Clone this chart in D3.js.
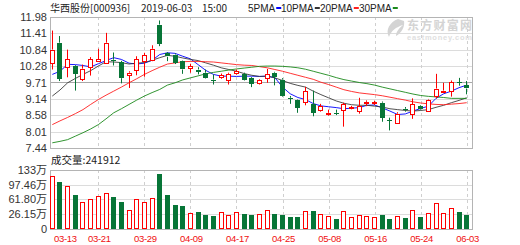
<!DOCTYPE html>
<html>
<head>
<meta charset="utf-8">
<script src="https://cdn.jsdelivr.net/npm/d3@7"></script>
<style>
  body { margin: 0; background: #fff; }
  svg { display: block; }
  text { font-family: "Liberation Sans", Arial, sans-serif; }
  .cjk { font-family: "Noto Sans CJK SC", "Liberation Sans", sans-serif; }
</style>
</head>
<body>
<script>
// trading days shown on the chart
var dates = ["03-13","03-14","03-15","03-18","03-19","03-20","03-21","03-22","03-25","03-26",
    "03-27","03-28","03-29","04-01","04-02","04-03","04-04","04-08","04-09","04-10",
    "04-11","04-12","04-15","04-16","04-17","04-18","04-19","04-22","04-23","04-24",
    "04-25","04-26","04-29","04-30","05-06","05-07","05-08","05-09","05-10","05-13",
    "05-14","05-15","05-16","05-17","05-20","05-21","05-22","05-23","05-24","05-27",
    "05-28","05-29","05-30","05-31","06-03"];

var openP = [10.39,11.09,10.24,10.28,9.85,10.22,10.43,10.39,10.50,10.42,
    9.97,10.14,10.45,10.51,11.72,10.72,10.68,10.45,10.20,10.16,
    10.05,9.81,9.88,9.79,10.02,10.01,9.87,9.68,9.87,10.05,
    9.81,9.18,9.09,9.04,8.97,8.74,8.64,8.66,8.74,8.81,
    8.70,9.01,9.01,9.01,8.40,8.31,8.80,8.60,8.89,8.74,
    9.26,9.40,9.41,9.71,9.62];
var closeP = [10.85,9.85,10.51,10.01,10.19,10.51,10.51,11.09,10.45,9.86,
    10.05,10.51,10.65,10.88,11.05,10.60,10.39,10.16,10.28,10.09,
    9.88,9.78,9.96,10.01,10.10,9.81,9.67,9.78,10.01,9.90,
    9.26,9.14,8.83,9.41,8.66,8.89,8.66,8.63,8.95,8.86,
    8.89,9.04,9.03,8.49,8.38,8.63,8.75,8.95,8.78,9.12,
    9.50,9.43,9.73,9.69,9.50];
var highP = [11.51,11.32,10.85,10.31,10.33,10.59,10.88,11.43,10.75,10.46,
    10.10,10.62,10.74,11.00,11.86,10.76,10.72,10.47,10.36,10.24,
    10.16,9.99,10.02,10.05,10.16,10.05,9.90,9.82,10.18,10.08,
    9.86,9.24,9.12,9.56,9.43,8.97,8.77,8.77,9.01,8.90,
    9.18,9.09,9.08,9.05,8.49,8.68,8.86,9.16,8.92,9.14,
    10.01,9.70,9.78,9.87,9.76];
var lowP = [10.16,9.76,9.89,9.43,9.76,9.95,10.43,10.36,10.30,9.68,
    9.52,9.96,9.91,10.45,10.97,10.45,10.35,10.01,10.05,9.99,
    9.85,9.64,9.84,9.64,9.98,9.78,9.55,9.64,9.70,9.61,
    9.22,8.97,8.66,8.92,8.54,8.70,8.56,8.58,8.18,8.78,
    8.63,8.89,8.93,8.35,8.05,8.30,8.70,8.45,8.75,8.70,
    9.16,9.35,9.22,9.60,9.30];

// volume, 万手
var volume = [117.9,105.0,93.5,71.6,56.3,62.8,69.2,78.2,67.7,56.3,
    36.8,62.8,55.5,65.3,122.8,71.6,48.2,44.8,28.7,31.2,
    23.9,22.2,31.2,23.9,31.2,26.3,23.9,26.3,36.8,27.0,
    23.9,19.7,19.7,34.3,34.3,26.3,21.4,14.9,34.3,19.0,
    23.9,22.2,19.7,23.9,14.9,22.2,17.3,36.8,19.7,28.7,
    53.1,28.7,40.9,31.9,24.19];

var ma5 = [9.99,10.10,10.34,10.33,10.30,10.25,10.36,10.47,10.57,10.51,
    10.38,10.35,10.38,10.48,10.68,10.74,10.72,10.62,10.53,10.33,
    10.13,9.99,9.93,9.93,9.92,9.93,9.93,9.92,9.93,9.88,
    9.55,9.32,9.19,9.12,8.98,8.90,8.87,8.84,8.80,8.82,
    8.84,8.92,8.93,8.83,8.72,8.60,8.62,8.72,8.81,8.89,
    9.16,9.32,9.41,9.53,9.62];
var ma10 = [9.24,9.45,9.70,9.85,9.99,10.12,10.28,10.43,10.42,10.40,
    10.35,10.38,10.40,10.48,10.57,10.65,10.62,10.56,10.51,10.47,
    10.39,10.31,10.22,10.16,10.10,10.02,9.96,9.92,9.93,9.87,
    9.78,9.68,9.61,9.55,9.41,9.29,9.18,9.07,8.99,8.94,
    8.92,8.92,8.89,8.86,8.80,8.77,8.74,8.72,8.74,8.77,
    8.85,8.92,9.01,9.09,9.18];
var ma20 = [8.25,8.38,8.50,8.63,8.77,8.95,9.12,9.27,9.41,9.55,
    9.70,9.84,9.99,10.12,10.24,10.35,10.39,10.43,10.44,10.44,
    10.43,10.42,10.39,10.36,10.33,10.31,10.30,10.26,10.22,10.16,
    10.10,10.03,9.96,9.89,9.82,9.72,9.64,9.55,9.46,9.40,
    9.35,9.32,9.29,9.25,9.20,9.15,9.10,9.04,9.00,8.97,
    8.95,8.94,8.96,8.98,9.01];
var ma30 = [7.62,7.67,7.73,7.85,7.97,8.10,8.25,8.45,8.66,8.80,
    8.95,9.10,9.24,9.36,9.47,9.62,9.70,9.80,9.87,9.94,
    10.01,10.06,10.10,10.14,10.18,10.21,10.24,10.27,10.28,10.28,
    10.27,10.25,10.22,10.17,10.10,10.03,9.96,9.88,9.81,9.76,
    9.71,9.67,9.62,9.55,9.49,9.43,9.37,9.31,9.26,9.23,
    9.21,9.19,9.16,9.16,9.16];

var priceTicks = [11.98, 11.41, 10.84, 10.28, 9.71, 9.14, 8.58, 8.01, 7.44];
var volTicks = [133, 97.46, 61.80, 26.15, -9.5];
var volTickLabels = ["133万", "97.46万", "61.80万", "26.15万", "0"];
var dateTicks = ["03-13","03-21","03-29","04-09","04-17","04-25","05-08","05-16","05-24","06-03"];

var maNames = ["5PMA", "10PMA", "20PMA", "30PMA"];
var maColors = ["#0000ff", "#333333", "#ff2020", "#1c8a1c"];
var maSeries = [ma5, ma10, ma20, ma30];

var titleParts = ["华西股份[000936]", "2019-06-03", "15:00"];
var volLabel = "成交量:241912";

var width = 520, height = 245;
var left = 50, right = 473;
var red = "#ff0000", green = "#077537";

var svg = d3.select("body").append("svg")
    .attr("width", width).attr("height", height);

var x = d3.scalePoint().domain(dates).range([52.3, 466.7]);
var yPrice = d3.scaleLinear().domain([7.44, 11.98]).range([148, 17]);
var yVol = d3.scaleLinear().domain([-9.5, 133]).range([228.6, 170]);

var data = dates.map(function (d, i) {
    return {date: d, o: openP[i], c: closeP[i], h: highP[i], l: lowP[i], v: volume[i]};
});

function px(v) { return Math.round(v) + 0.5; }

// ---- grids ----
function drawPanel(g, scale, ticks, top, bottom) {
    g.selectAll(".hgrid").data(ticks).enter().append("line")
        .attr("x1", left).attr("x2", right - 0.5)
        .attr("y1", function (d) { return px(scale(d)); })
        .attr("y2", function (d) { return px(scale(d)); })
        .attr("stroke", function (d) { return d === 9.71 ? "#a8a8a8" : "#dcdcdc"; })
        .attr("stroke-width", 1);
    g.selectAll(".vgrid").data(dateTicks.filter(function (d) { return x(d) > 60; }))
        .enter().append("line")
        .attr("x1", function (d) { return px(x(d)); })
        .attr("x2", function (d) { return px(x(d)); })
        .attr("y1", top).attr("y2", bottom)
        .attr("stroke", "#cfcfcf")
        .attr("stroke-dasharray", "3,3");
    g.append("rect")
        .attr("x", left + 0.5).attr("y", top + 0.5)
        .attr("width", right - left - 1).attr("height", bottom - top)
        .attr("fill", "none").attr("stroke", "#b4b4b4");
}

var priceG = svg.append("g");
drawPanel(priceG, yPrice, priceTicks, 17, 148);
var volG = svg.append("g");
drawPanel(volG, yVol, volTicks, 170, 229);

// ---- axes labels ----
var yAxisPrice = d3.axisLeft(yPrice).tickValues(priceTicks).tickSize(0).tickPadding(0)
    .tickFormat(d3.format(".2f"));
svg.append("g").attr("transform", "translate(47,0)").call(yAxisPrice)
    .call(function (g) { g.select(".domain").remove(); })
    .selectAll("text").attr("fill", "#333").style("font-size", "11px")
    .style("font-family", "'Liberation Sans', Arial, sans-serif");

var yAxisVol = d3.axisLeft(yVol).tickValues(volTicks).tickSize(0).tickPadding(0)
    .tickFormat(function (d, i) { return volTickLabels[i]; });
svg.append("g").attr("transform", "translate(47,0)").call(yAxisVol)
    .call(function (g) { g.select(".domain").remove(); })
    .selectAll("text").attr("fill", "#333").style("font-size", "11px")
    .style("font-family", "'Liberation Sans', 'Noto Sans CJK SC', sans-serif");

var xLabels = svg.append("g").selectAll("text").data(dateTicks).enter().append("text")
    .attr("x", function (d) { return x(d) + 1; })
    .attr("y", 241.5)
    .attr("text-anchor", "middle")
    .attr("fill", "#f01010")
    .style("font-size", "9.5px")
    .style("letter-spacing", "-0.3px")
    .text(function (d) { return d; });
// first label is pushed inside the frame
xLabels.each(function (d) {
    var w = this.getComputedTextLength();
    if (x(d) + 1 - w / 2 < 54) d3.select(this).attr("x", 54).attr("text-anchor", "start");
});

// ---- watermark ----
var wm = svg.append("g").attr("fill", "#d4d4d4");
wm.append("path")
    .attr("d", "M398,19 C390,22 385,30 389,37 C391,31 396,27 403,25 C399,28 396,32 396,36 C402,33 405,26 404,21 Z");
wm.append("text").attr("class", "cjk").attr("x", 407).attr("y", 30)
    .style("font-size", "12px").style("font-weight", "bold")
    .attr("textLength", 65).text("东方财富网");
wm.append("text").attr("x", 407).attr("y", 39.5)
    .style("font-size", "7.5px").style("font-weight", "bold").attr("fill", "#e0e0e0")
    .attr("textLength", 65).text("eastmoney.com");

// ---- MA lines ----
maSeries.forEach(function (s, k) {
    var line = d3.line()
        .x(function (d, i) { return x(dates[i]); })
        .y(function (d) { return yPrice(d); });
    svg.append("path").datum(s)
        .attr("d", line)
        .attr("fill", "none")
        .attr("stroke", maColors[k])
        .attr("stroke-width", 1)
        .attr("stroke-opacity", k === 1 ? 0.85 : 0.9);
});

// ---- candles ----
var candles = svg.append("g").selectAll("g").data(data).enter().append("g");
candles.each(function (d) {
    var g = d3.select(this);
    var bx = Math.round(x(d.date) - 2.5);
    var cx = bx + 2.5;
    var up = d.c >= d.o;
    var top = yPrice(Math.max(d.o, d.c)), bot = yPrice(Math.min(d.o, d.c));
    var col = up ? red : green;
    g.append("line").attr("x1", cx).attr("x2", cx)
        .attr("y1", yPrice(d.h)).attr("y2", top).attr("stroke", col);
    g.append("line").attr("x1", cx).attr("x2", cx)
        .attr("y1", bot).attr("y2", yPrice(d.l)).attr("stroke", col);
    if (up) {
        g.append("rect").attr("x", bx + 0.5).attr("y", px(top))
            .attr("width", 4).attr("height", Math.max(1, Math.round(bot - top)))
            .attr("fill", "#fff").attr("stroke", red);
    } else {
        g.append("rect").attr("x", bx).attr("y", Math.round(top))
            .attr("width", 5).attr("height", Math.max(1, Math.round(bot - top)))
            .attr("fill", green);
    }
});

// ---- volume bars ----
svg.append("g").selectAll("rect").data(data).enter().append("rect")
    .attr("x", function (d) {
        var bx = Math.round(x(d.date) - 2.5);
        return d.c >= d.o ? bx + 0.5 : bx;
    })
    .attr("y", function (d) { return d.c >= d.o ? px(yVol(d.v)) : Math.round(yVol(d.v)); })
    .attr("width", function (d) { return d.c >= d.o ? 4 : 5; })
    .attr("height", function (d) {
        var h = 229 - Math.round(yVol(d.v));
        return d.c >= d.o ? h - 1 : h;
    })
    .attr("fill", function (d) { return d.c >= d.o ? "#fff" : green; })
    .attr("stroke", function (d) { return d.c >= d.o ? red : "none"; });

// ---- header ----
var titleX = [50, 141, 202];
titleParts.forEach(function (t, k) {
    svg.append("text").attr("class", "cjk").attr("x", titleX[k]).attr("y", 12)
        .attr("fill", "#222").style("font-size", "10px")
        .text(t);
});

var legend = svg.append("g").attr("class", "cjk");
var legX = [248, 281, 320, 359];
maNames.forEach(function (n, k) {
    var t = legend.append("text").attr("x", legX[k]).attr("y", 12)
        .attr("fill", "#222").style("font-size", "10px").text(n);
    var w = t.node().getComputedTextLength();
    legend.append("rect").attr("x", legX[k] + w + 1).attr("y", 7)
        .attr("width", 5).attr("height", 2).attr("fill", maColors[k]);
});

svg.append("text").attr("class", "cjk").attr("x", 51).attr("y", 163.5)
    .attr("fill", "#222").style("font-size", "10.5px")
    .text(volLabel);
</script>
</body>
</html>
